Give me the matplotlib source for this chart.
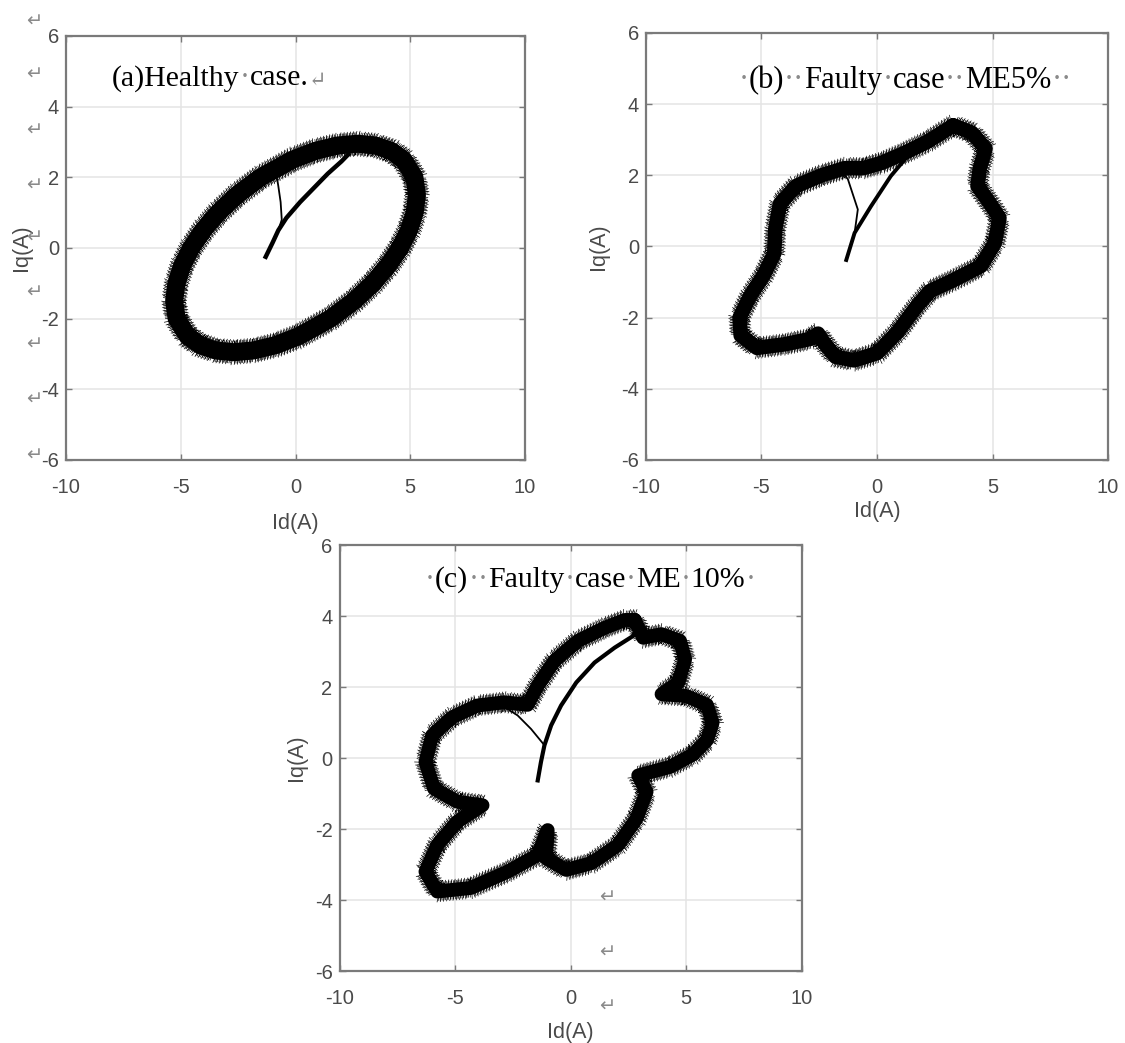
"""
Park's vector (Id-Iq) loops: healthy motor and two mixed-eccentricity faults.
"""

import matplotlib

matplotlib.use("Agg")
import matplotlib.pyplot as plt
from matplotlib import patheffects as pe

plt.rcParams["axes.unicode_minus"] = False

# (a) healthy case - centre line of the current band
healthy_id = [4.55, 4.94, 5.19, 5.29, 5.18, 4.70, 4.16, 3.48, 2.70, 1.83, 0.87, -0.13,
              -1.52, -2.55, -3.37, -4.03, -4.55, -4.94, -5.19, -5.29, -5.18, -4.70,
              -4.16, -3.48, -2.70, -1.83, -0.87, 0.13, 1.52, 2.55, 3.37, 4.03, 4.55]
healthy_iq = [0.0, 0.5, 1.0, 1.5, 2.0, 2.5, 2.75, 2.9, 2.95, 2.9, 2.75, 2.5,
              2.0, 1.5, 1.0, 0.5, 0.0, -0.5, -1.0, -1.5, -2.0, -2.5,
              -2.75, -2.9, -2.95, -2.9, -2.75, -2.5, -2.0, -1.5, -1.0, -0.5, 0.0]
healthy_start_id = [-1.3, -1.0, -0.75, -0.4, 0.2, 0.8, 1.4, 2.0, 2.3]
healthy_start_iq = [-0.25, 0.15, 0.5, 0.85, 1.3, 1.7, 2.1, 2.45, 2.65]
healthy_branch_id = [-0.75, -0.6, -0.65, -0.75, -0.8]
healthy_branch_iq = [0.5, 0.8, 1.3, 1.75, 1.95]

# (b) faulty case ME 5%
me5_id = [3.3, 4.1, 4.7, 4.45, 4.35, 4.9, 5.3, 5.1, 4.5, 3.3, 2.3, 1.7, 0.9, 0.0,
          -1.0, -1.8, -2.3, -2.55, -2.9, -4.0, -5.2, -5.9, -5.95, -5.5, -4.9, -4.45,
          -4.4, -4.2, -3.5, -2.4, -1.4, -0.6, 0.2, 1.1, 2.2, 3.3]
me5_iq = [3.4, 3.2, 2.75, 2.2, 1.7, 1.2, 0.8, 0.1, -0.55, -0.95, -1.25, -1.7, -2.4, -3.0,
          -3.2, -3.1, -2.7, -2.45, -2.6, -2.75, -2.85, -2.5, -2.0, -1.4, -0.8, -0.2,
          0.5, 1.2, 1.7, 2.0, 2.2, 2.2, 2.35, 2.6, 2.95, 3.4]
me5_start_id = [-1.33, -0.97, -0.26, 0.6, 1.46, 2.6, 3.1]
me5_start_iq = [-0.38, 0.38, 1.13, 1.98, 2.64, 3.11, 3.5]
me5_branch_id = [-0.97, -0.83, -1.26, -1.54]
me5_branch_iq = [0.38, 1.04, 1.89, 2.12]

# (c) faulty case ME 10%
me10_id = [2.78, 3.14, 3.94, 4.74, 4.96, 4.67, 3.94, 5.0, 5.9, 6.15, 5.9, 5.3, 4.3,
           2.93, 3.29, 2.86, 2.06, 0.90, -0.19, -1.06, -0.99, -1.42, -2.72, -4.32,
           -5.77, -6.28, -5.77, -4.90, -3.81, -4.90, -5.91, -6.28, -5.99, -5.12,
           -4.03, -2.87, -1.86, -1.42, -0.70, 0.32, 1.48, 2.35, 2.78]
me10_iq = [3.89, 3.39, 3.49, 3.30, 2.79, 2.13, 1.80, 1.75, 1.5, 1.0, 0.5, 0.1, -0.25,
           -0.49, -0.95, -1.70, -2.45, -2.96, -3.15, -2.82, -2.03, -2.73, -3.20, -3.66,
           -3.76, -3.20, -2.45, -1.79, -1.33, -1.23, -0.86, -0.11, 0.64, 1.15,
           1.48, 1.57, 1.50, 2.04, 2.74, 3.30, 3.67, 3.89, 3.89]
me10_start_id = [-1.42, -1.28, -1.13, -0.84, -0.41, 0.25, 1.04, 1.91, 2.71, 3.0]
me10_start_iq = [-0.63, -0.11, 0.36, 0.92, 1.48, 2.13, 2.69, 3.11, 3.44, 3.9]
me10_branch_id = [-1.13, -1.71, -2.29, -2.72]
me10_branch_iq = [0.36, 0.82, 1.2, 1.38]

x_ticks = [-10, -5, 0, 5, 10]
y_ticks = [-6, -4, -2, 0, 2, 4, 6]

SANS = ["Liberation Sans", "DejaVu Sans"]
SERIF = ["Liberation Serif", "DejaVu Serif"]
FRAME = "#7a7a7a"
LABEL = "#4a4a4a"
MARK = "#8a8a8a"


def setup_axes(ax, xlabel_y, ylabel_x):
    ax.set_xlim(-10, 10)
    ax.set_ylim(-6, 6)
    ax.set_xticks(x_ticks)
    ax.set_yticks(y_ticks)
    ax.grid(True, color="#e4e4e4", linewidth=1.1)
    ax.set_axisbelow(True)
    for s in ax.spines.values():
        s.set_color(FRAME)
        s.set_linewidth(1.6)
    ax.tick_params(direction="in", length=4, width=1, color=FRAME,
                   top=True, right=True, labelsize=14.5, labelcolor=LABEL)
    ax.tick_params(axis="x", pad=13)
    ax.tick_params(axis="y", pad=5)
    for lab in ax.get_xticklabels() + ax.get_yticklabels():
        lab.set_family(SANS)
    ax.set_xlabel("Id(A)", fontsize=15.5, color=LABEL, family=SANS)
    ax.set_ylabel("Iq(A)", fontsize=15.5, color=LABEL, family=SANS)
    ax.xaxis.set_label_coords(0.5, xlabel_y)
    ax.yaxis.set_label_coords(ylabel_x, 0.5)


def draw_loop(ax, xs, ys, width):
    half = width / 2.0
    fuzz = [
        pe.TickedStroke(spacing=1.2, angle=85, length=(half + 1.6) / 1.2, linewidth=0.5),
        pe.TickedStroke(spacing=1.2, angle=-95, length=(half + 1.6) / 1.2, linewidth=0.5),
        pe.TickedStroke(spacing=2.3, angle=70, length=(half + 3.0) / 2.3, linewidth=0.5),
        pe.TickedStroke(spacing=2.3, angle=-110, length=(half + 3.0) / 2.3, linewidth=0.5),
        pe.Normal(),
    ]
    ax.plot(xs, ys, color="black", linewidth=width, solid_joinstyle="round",
            solid_capstyle="round", path_effects=fuzz)


def draw_start(ax, xs, ys, width):
    ax.plot(xs, ys, color="black", linewidth=width, solid_joinstyle="round")


def draw_title(ax, x, y, text, size):
    # Word formatting marks (· and ↵) are faint grey, the words are black
    runs = []
    for ch in text:
        is_mark = ch in "·↵"
        if runs and runs[-1][1] == is_mark:
            runs[-1][0] += ch
        else:
            runs.append([ch, is_mark])
    renderer = ax.figure.canvas.get_renderer()
    for chunk, is_mark in runs:
        fs = size * 0.7 if chunk == "↵" else size
        t = ax.text(x, y, chunk, color=MARK if is_mark else "black", fontsize=fs,
                    family=SERIF, va="baseline", ha="left")
        bb = t.get_window_extent(renderer)
        x = ax.transData.inverted().transform((bb.x1, bb.y0))[0]


fig = plt.figure(figsize=(11.25, 10.43), dpi=100)
ax_a = fig.add_axes([0.0587, 0.5590, 0.4080, 0.4065])
ax_b = fig.add_axes([0.5742, 0.5590, 0.4107, 0.4094])
ax_c = fig.add_axes([0.3018, 0.0690, 0.4107, 0.4084])

# (a) healthy
setup_axes(ax_a, -0.125, -0.075)
draw_loop(ax_a, healthy_id, healthy_iq, 13)
draw_start(ax_a, healthy_start_id, healthy_start_iq, 3.2)
draw_start(ax_a, healthy_branch_id, healthy_branch_iq, 1.3)
draw_title(ax_a, -8.0, 4.6, "(a)Healthy·case.↵", 21.5)
for yy in [6.43, 4.91, 3.34, 1.78, 0.31, -1.26, -2.73, -4.29, -5.86]:
    ax_a.text(-11.4, yy, "↵", color=MARK, fontsize=14, family=["DejaVu Sans"],
              ha="center", va="center", clip_on=False)

# (b) ME 5%
setup_axes(ax_b, -0.095, -0.08)
draw_loop(ax_b, me5_id, me5_iq, 10.5)
draw_start(ax_b, me5_start_id, me5_start_iq, 2.8)
draw_start(ax_b, me5_branch_id, me5_branch_iq, 1.3)
draw_title(ax_b, -6.0, 4.45, "·(b)··Faulty·case··ME5%··", 22)

# (c) ME 10%
setup_axes(ax_c, -0.12, -0.07)
draw_loop(ax_c, me10_id, me10_iq, 10)
draw_start(ax_c, me10_start_id, me10_start_iq, 3.0)
draw_start(ax_c, me10_branch_id, me10_branch_iq, 1.3)
draw_title(ax_c, -6.3, 4.83, "·(c)··Faulty·case·ME·10%·", 21.5)
for yy in [-3.91, -5.46, -7.0]:
    ax_c.text(1.6, yy, "↵", color=MARK, fontsize=14, family=["DejaVu Sans"],
              ha="center", va="center", clip_on=False)

plt.savefig("out.png", dpi=100)
